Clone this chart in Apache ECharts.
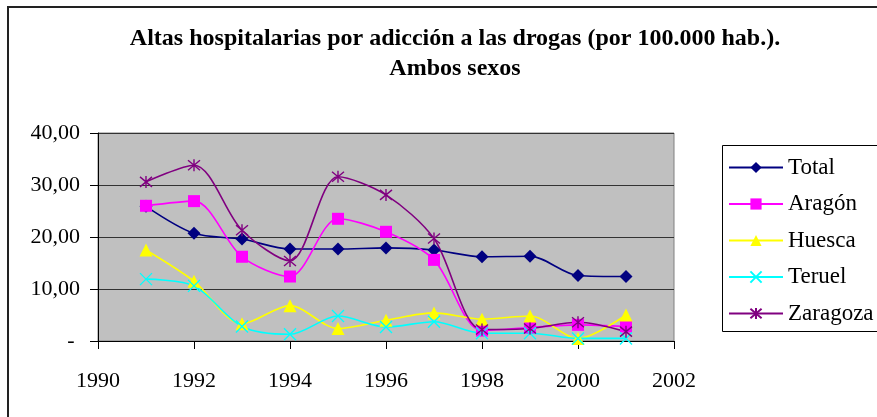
<!DOCTYPE html>
<html lang="es">
<head>
<meta charset="UTF-8">
<title>Altas hospitalarias</title>
<script src="https://cdn.jsdelivr.net/npm/echarts@6/dist/echarts.min.js"></script>
<style>
  html, body { margin: 0; padding: 0; background: #fff; }
  #chart { width: 877px; height: 417px; }
</style>
</head>
<body>
<div id="chart"></div>
<script>
const years = [1991, 1992, 1993, 1994, 1995, 1996, 1997, 1998, 1999, 2000, 2001];
const total    = [25.9, 20.7, 19.6, 17.7, 17.7, 17.9, 17.5, 16.2, 16.3, 12.6, 12.4];
const aragon   = [26.0, 26.9, 16.2, 12.4, 23.5, 21.0, 15.6, 2.0, 2.6, 3.1, 2.8];
const huesca   = [17.5, 11.5, 3.3, 6.8, 2.4, 4.0, 5.4, 4.2, 4.8, 0.5, 5.0];
const teruel   = [11.9, 10.6, 2.8, 1.3, 4.8, 2.7, 3.7, 1.5, 1.5, 0.5, 0.5];
const zaragoza = [30.6, 33.8, 21.3, 15.4, 31.6, 28.1, 19.7, 2.2, 2.4, 3.6, 1.8];

const chart = echarts.init(document.getElementById('chart'));
const font = 'Liberation Serif';
const crossPath = 'path://M0,0 L10,10 M10,0 L0,10';
const starPath = 'path://M0,0 L10,10 M10,0 L0,10 M5,-1 L5,11';

function pairs(arr) {
    return arr.map((v, i) => [years[i], v]);
}

function line(name, data, color, symbol, size, stroked) {
    return {
        name: name,
        type: 'line',
        smooth: 0.3,
        data: pairs(data),
        symbol: symbol,
        symbolSize: size,
        showAllSymbol: true,
        lineStyle: { color: color, width: 1.6 },
        itemStyle: stroked
            ? { color: 'transparent', borderColor: color, borderWidth: 1.4 }
            : { color: color },
        emphasis: { disabled: true }
    };
}

chart.setOption({
    animation: false,
    title: {
        text: 'Altas hospitalarias por adicción a las drogas (por 100.000 hab.).\nAmbos sexos',
        left: 450,
        textAlign: 'center',
        top: 19,
        textStyle: { fontFamily: font, fontSize: 24, fontWeight: 'bold', color: '#000', lineHeight: 30 }
    },
    graphic: [
        { type: 'rect', shape: { x: 8, y: 7, width: 880, height: 420 }, style: { fill: 'none', stroke: '#222', lineWidth: 2 } },
        { type: 'rect', shape: { x: 722.5, y: 145.5, width: 170, height: 186 }, style: { fill: '#fff', stroke: '#000', lineWidth: 1 } }
    ],
    legend: {
        orient: 'vertical',
        left: 728,
        top: 156,
        padding: 0,
        itemWidth: 54,
        itemHeight: 14,
        itemGap: 13.5,
        textStyle: { fontFamily: font, fontSize: 23, lineHeight: 23, color: '#000' },
        data: ['Total', 'Aragón', 'Huesca', 'Teruel', 'Zaragoza']
    },
    grid: {
        left: 98, right: 203, top: 133, bottom: 76,
        show: true, backgroundColor: '#c0c0c0', borderColor: '#808080', borderWidth: 1
    },
    xAxis: {
        type: 'value',
        min: 1990, max: 2002, interval: 2,
        axisLine: { lineStyle: { color: '#000' } },
        axisTick: { show: true, length: 8, lineStyle: { color: '#000' } },
        splitLine: { show: false },
        axisLabel: { fontFamily: font, fontSize: 22, color: '#000', margin: 29, formatter: v => String(v) }
    },
    yAxis: {
        type: 'value',
        min: 0, max: 40, interval: 10,
        axisLine: { show: true, lineStyle: { color: '#000' } },
        axisTick: { show: true, length: 8, lineStyle: { color: '#000' } },
        splitLine: { show: true, lineStyle: { color: '#333', width: 1 } },
        axisLabel: {
            fontFamily: font, fontSize: 22, color: '#000', margin: 18,
            formatter: v => v === 0 ? '- ' : v.toFixed(2).replace('.', ',')
        }
    },
    series: [
        line('Total', total, '#000080', 'diamond', 13, false),
        line('Aragón', aragon, '#ff00ff', 'rect', 12, false),
        line('Huesca', huesca, '#ffff00', 'triangle', 13, false),
        line('Teruel', teruel, '#00ffff', crossPath, 12, true),
        line('Zaragoza', zaragoza, '#800080', starPath, 12, true)
    ]
});
</script>
</body>
</html>
